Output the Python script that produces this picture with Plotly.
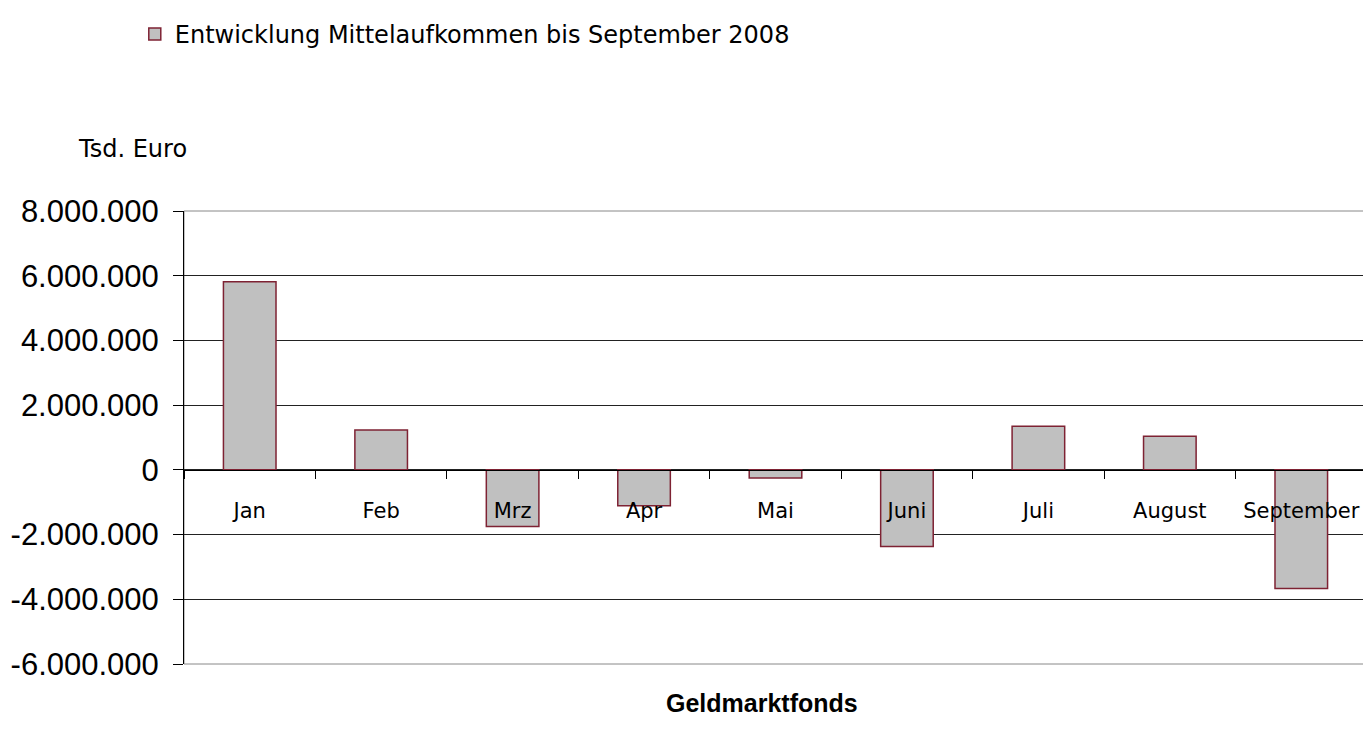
import plotly.graph_objects as go

months = ["Jan", "Feb", "Mrz", "Apr", "Mai", "Juni", "Juli", "August", "September"]
values = [5810000, 1230000, -1750000, -1110000, -250000, -2370000, 1350000, 1040000, -3670000]
series_name = "Entwicklung Mittelaufkommen bis September 2008"
y_ticks = [8000000, 6000000, 4000000, 2000000, 0, -2000000, -4000000, -6000000]
y_tick_text = ["8.000.000", "6.000.000", "4.000.000", "2.000.000", "0",
               "-2.000.000", "-4.000.000", "-6.000.000"]
y_min, y_max = -6000000, 8000000

fig = go.Figure()
fig.add_trace(go.Bar(
    x=months, y=values, name=series_name,
    marker=dict(color="#C0C0C0", line=dict(color="#7E2233", width=1.5)),
    showlegend=True,
))

zero_pos = (0 - y_min) / (y_max - y_min)

fig.update_layout(
    width=1363, height=728,
    margin=dict(l=176, r=4, t=199, b=72),
    paper_bgcolor="white", plot_bgcolor="white",
    bargap=0.6,
    showlegend=True,
    legend=dict(x=-0.0416, y=1.39, xanchor="left", yanchor="middle",
                font=dict(family="DejaVu Sans", size=24, color="#000000"),
                bgcolor="rgba(0,0,0,0)", itemwidth=30),
    xaxis=dict(
        type="category", anchor="free", position=zero_pos,
        showline=True, linecolor="#000000", linewidth=1,
        ticks="outside", ticklen=8, tickcolor="#000000", tickwidth=1,
        tickson="boundaries", showgrid=False,
        tickfont=dict(family="DejaVu Sans", size=21, color="#000000"),
        ticklabelstandoff=22,
        range=[-0.5, 8.5],
    ),
    yaxis=dict(
        range=[y_min, y_max],
        tickvals=y_ticks, ticktext=y_tick_text,
        showline=True, linecolor="#000000", linewidth=1,
        ticks="outside", ticklen=10, tickcolor="#000000",
        showgrid=True, gridcolor="#222222", gridwidth=1,
        zeroline=False,
        tickfont=dict(family="Liberation Sans", size=31, color="#000000"),
        ticklabelstandoff=8,
    ),
    annotations=[
        dict(text="Tsd. Euro", x=-0.091, y=1.136, xref="paper", yref="paper",
             xanchor="left", yanchor="middle", showarrow=False,
             font=dict(family="DejaVu Sans", size=24, color="#000000")),
        dict(text="Geldmarktfonds", x=0.489, y=-0.085, xref="paper", yref="paper",
             xanchor="center", yanchor="middle", showarrow=False,
             font=dict(family="Liberation Sans", size=25, color="#000000", weight="bold")),
    ],
    shapes=[
        dict(type="rect", xref="paper", yref="paper", x0=0, y0=0, x1=1, y1=1,
             line=dict(color="#888888", width=1), layer="below"),
    ],
)

fig.write_html("out.html")
